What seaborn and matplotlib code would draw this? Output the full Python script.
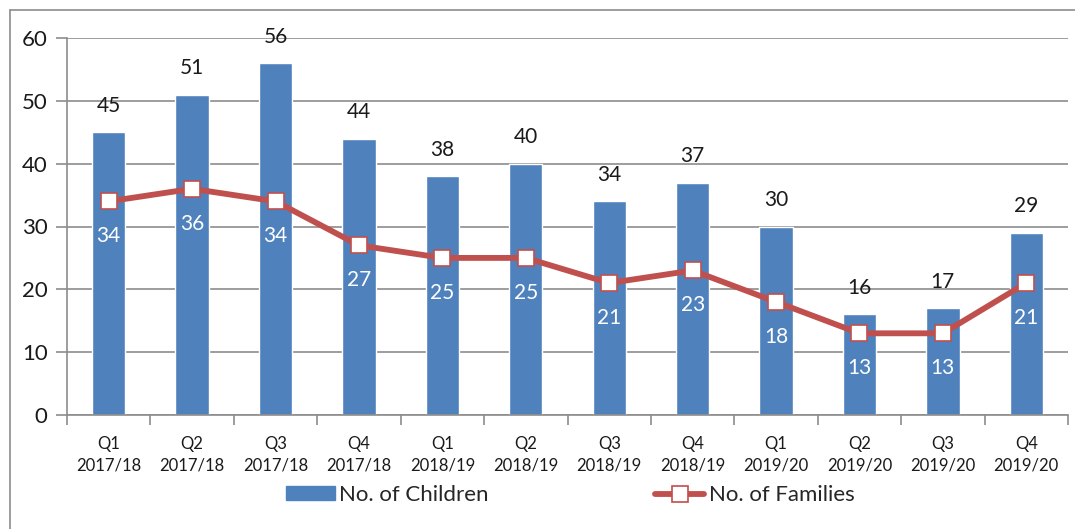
import matplotlib
matplotlib.use("Agg")
import matplotlib.pyplot as plt
import seaborn as sns
import pandas as pd
from matplotlib.lines import Line2D
from matplotlib.patches import Patch

quarters = ["Q1\n2017/18", "Q2\n2017/18", "Q3\n2017/18", "Q4\n2017/18",
            "Q1\n2018/19", "Q2\n2018/19", "Q3\n2018/19", "Q4\n2018/19",
            "Q1\n2019/20", "Q2\n2019/20", "Q3\n2019/20", "Q4\n2019/20"]
children = [45, 51, 56, 44, 38, 40, 34, 37, 30, 16, 17, 29]
families = [34, 36, 34, 27, 25, 25, 21, 23, 18, 13, 13, 21]

sns.set_theme(style="white")
plt.rcParams['font.family'] = ['Lato', 'DejaVu Sans']

BLUE = "#4F81BD"
RED = "#C0504D"

df = pd.DataFrame({"quarter": quarters, "children": children, "families": families})

fig = plt.figure(figsize=(10.75, 5.29), dpi=100)
ax = fig.add_axes([67/1075, 1-415/529, (1068-67)/1075, (415-38)/529])

sns.barplot(data=df, x="quarter", y="children", color=BLUE, width=0.4,
            saturation=1, ax=ax, zorder=2)
sns.lineplot(data=df, x="quarter", y="families", color=RED, linewidth=4.2,
             marker="s", markersize=12, markerfacecolor="white",
             markeredgecolor=RED, markeredgewidth=1.2, ax=ax, zorder=3, sort=False)

for i, (c, f) in enumerate(zip(children, families)):
    ax.annotate(str(c), (i, c), xytext=(0, 19), textcoords="offset points",
                ha="center", va="center", fontsize=15, color="#1a1a1a")
    ax.annotate(str(f), (i, f), xytext=(0, -25), textcoords="offset points",
                ha="center", va="center", fontsize=15, color="white")

ax.set_ylim(0, 60)
ax.set_xlim(-0.5, len(quarters) - 0.5)
ax.set_yticks(range(0, 61, 10))
ax.yaxis.grid(True, color="#8c8c8c", linewidth=1.2, zorder=0)
ax.set_axisbelow(True)
ax.set_xlabel("")
ax.set_ylabel("")
for s in ["top", "right"]:
    ax.spines[s].set_visible(False)
for s in ["left", "bottom"]:
    ax.spines[s].set_color("#8c8c8c")
    ax.spines[s].set_linewidth(1.2)

ax.tick_params(axis="y", labelsize=16, colors="#8c8c8c", labelcolor="#1a1a1a",
               left=True, length=8, width=1.2, pad=6)
ax.set_xticks(range(len(quarters)))
ax.set_xticklabels(quarters, fontsize=12, color="#1a1a1a", linespacing=1.45)
ax.tick_params(axis="x", bottom=False, pad=9)
ax.set_xticks([i - 0.5 for i in range(len(quarters) + 1)], minor=True)
ax.tick_params(axis="x", which="minor", bottom=True, length=7, width=1.2,
               color="#8c8c8c")

handles = [Patch(facecolor=BLUE, edgecolor=BLUE),
           Line2D([0], [0], color=RED, linewidth=4.2, marker="s", markersize=12,
                  markerfacecolor="white", markeredgecolor=RED, markeredgewidth=1.2)]
fig.legend(handles, ["No. of Children", "No. of Families"], loc="center",
           bbox_to_anchor=(570/1075, 1-495/529), ncol=2, frameon=False,
           fontsize=16, columnspacing=7.5, handlelength=2.2, handleheight=0.55,
           handletextpad=0.2)

fig.add_artist(Line2D([10/1075, 1], [1-10/529, 1-10/529], color="#8c8c8c",
                      linewidth=1.2, transform=fig.transFigure))
fig.add_artist(Line2D([10/1075, 10/1075], [0, 1-10/529], color="#8c8c8c",
                      linewidth=1.2, transform=fig.transFigure))

fig.savefig("out.png", dpi=100)
